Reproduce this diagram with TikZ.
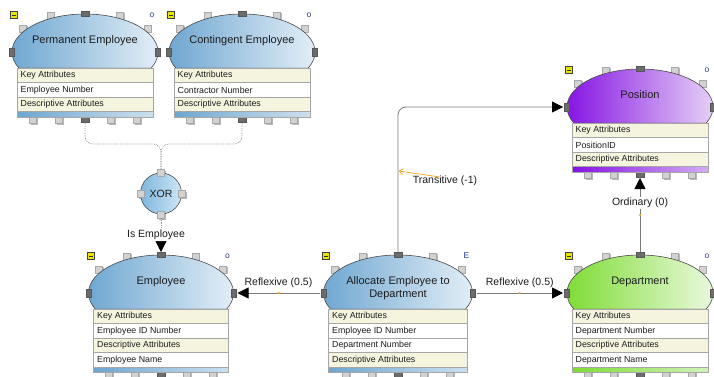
\documentclass[tikz,border=0pt]{standalone}
\usepackage{fontspec}
\setmainfont{Liberation Sans}
\usetikzlibrary{arrows.meta}
\definecolor{blueL}{HTML}{6EA6D0}
\definecolor{blueR}{HTML}{EAF3FA}
\definecolor{purL}{HTML}{8412E2}
\definecolor{purR}{HTML}{ECDDF8}
\definecolor{grnL}{HTML}{7EDC34}
\definecolor{grnR}{HTML}{F1FBE8}
\definecolor{rowb}{HTML}{F5F5DF}
\definecolor{roww}{HTML}{FFFFFF}
\definecolor{rowline}{HTML}{A6A6A6}
\definecolor{sqL}{HTML}{D2D2D2}
\definecolor{sqB}{HTML}{A8A8A8}
\definecolor{sqS}{HTML}{B8B8B8}
\definecolor{sqD}{HTML}{6C6C6C}
\definecolor{domeC}{HTML}{4A4A4A}
\definecolor{lineC}{HTML}{7A7A7A}
\definecolor{dotC}{HTML}{8C8C8C}
\definecolor{txtC}{HTML}{1C1C1C}
\definecolor{markC}{HTML}{2B3A8C}
\definecolor{iconY}{HTML}{E6E600}
\definecolor{orngC}{HTML}{F7A21B}
\definecolor{xorL}{HTML}{7DB7DE}
\definecolor{xorR}{HTML}{CFE6F5}

\tikzset{
  domeline/.style={draw=domeC, line width=0.6pt},
  titletext/.style={font=\fontsize{11}{13}\selectfont, text=txtC, inner sep=0pt, align=center, anchor=north},
  rowtext/.style={font=\fontsize{8.8}{10}\selectfont, text=txtC, inner sep=0pt, anchor=west},
  lbl/.style={font=\fontsize{10.5}{12}\selectfont, text=txtC, inner sep=1pt},
  conn/.style={draw=lineC, line width=0.8pt, -{Triangle[length=11pt,width=11pt,color=black]}},
  dotconn/.style={draw=dotC, line width=0.7pt, densely dotted},
  odot/.style={circle, fill=orngC, inner sep=0pt, minimum size=2.2pt},
  marktext/.style={font=\fontsize{8.5}{9}\selectfont, text=markC, inner sep=0pt},
}

\newcommand\lsq[2]{%
  \fill[sqS] ({#1-2},{#2-2}) rectangle ++(7,7);
  \filldraw[fill=sqL, draw=sqB, line width=0.4pt] ({#1-3.5},{#2-3.5}) rectangle ++(7,7);}
\newcommand\dsq[2]{%
  \filldraw[fill=sqD, draw=sqD!80!black, line width=0.3pt] ({#1-4},{#2-2.5}) rectangle ++(8,5);}
\newcommand\dsqv[2]{%
  \filldraw[fill=sqD, draw=sqD!80!black, line width=0.3pt] ({#1-2.5},{#2-4}) rectangle ++(5,8);}

% #1 name, #2 cx, #3 ytop, #4 rx, #5 title, #6 left colour, #7 right colour, #8 rows, #9 marker
\newcommand\entity[9]{%
  \pgfmathsetmacro\ecx{#2}%
  \pgfmathsetmacro\ety{#3}%
  \pgfmathsetmacro\erx{#4}%
  \pgfmathsetmacro\ecy{\ety+38}%
  \pgfmathsetmacro\etl{\ecx-\erx+5}%
  \pgfmathsetmacro\etr{\ecx+\erx-5}%
  \pgfmathsetmacro\ett{\ety+54}%
  % light connection squares behind the dome
  \foreach \a in {117,63,145,35}{%
    \pgfmathsetmacro\sx{\ecx+(\erx+3)*cos(\a)}%
    \pgfmathsetmacro\sy{\ecy-41*sin(\a)}%
    \lsq{\sx}{\sy}}
  % dome
  \path[domeline, left color=#6, right color=#7] (\ecx,\ecy) ++(-25:#4pt and 38pt)
     arc[start angle=-25, end angle=205, x radius=#4pt, y radius=38pt] -- cycle;
  \dsq{\ecx}{\ety}
  \dsqv{\ecx-\erx}{\ecy}
  \dsqv{\ecx+\erx}{\ecy}
  \node[titletext] (#1-title) at (\ecx,\ety+21.5) {#5};
  % count rows
  \foreach \rfill/\rtxt [count=\i] in {#8}{\xdef\nrows{\i}}
  \pgfmathsetmacro\eby{\ett+\nrows*14.5}%
  % bottom squares
  \foreach \dx in {-52,-26,26,52}{\lsq{\ecx+\dx}{\eby+8}}
  \dsq{\ecx}{\eby+8}
  % rows
  \foreach \rfill/\rtxt [count=\i] in {#8}{%
    \pgfmathsetmacro\ry{\ett+(\i-1)*14.5}%
    \path[draw=rowline, line width=0.5pt, fill=\rfill] (\etl,\ry) rectangle (\etr,\ry+14.5);
    \node[rowtext] (#1-r\i) at (\etl+3.5,\ry+7.6) {\rtxt};}
  % colour bar
  \path[draw=rowline, line width=0.5pt, left color=#6, right color=#6!35!white] (\etl,\eby) rectangle (\etr,\eby+5.5);
  \draw[rowline, line width=0.6pt] (\etl,\ett) rectangle (\etr,\eby+5.5);
  % icons
  \filldraw[fill=iconY, draw=black!75, line width=0.4pt] ({\ecx-\erx+2-3.5},{\ety+1-3.5}) rectangle ++(7,7);
  \draw[black!80, line width=0.7pt] ({\ecx-\erx+2-2},{\ety+1}) -- ++(4,0);
  \node[marktext] (#1-mark) at (\ecx+\erx-6,\ety+1) {#9};
  % anchor coordinates
  \coordinate (#1-top) at (\ecx,\ety-3);
  \coordinate (#1-left) at (\ecx-\erx-4,\ecy);
  \coordinate (#1-right) at (\ecx+\erx+4,\ecy);
  \coordinate (#1-bot) at (\ecx,\eby+11.5);
}

\begin{document}
\begin{tikzpicture}[x=1pt,y=-1pt]
\fill[white] (0,0) rectangle (714,377);
\useasboundingbox (0,0) rectangle (714,377);

\entity{perm}{85}{14}{73}{Permanent Employee}{blueL}{blueR}%
  {rowb/Key Attributes, roww/Employee Number, rowb/Descriptive Attributes}{o}
\entity{cont}{242}{14}{73}{Contingent Employee}{blueL}{blueR}%
  {rowb/Key Attributes, roww/Contractor Number, rowb/Descriptive Attributes}{o}
\entity{emp}{161}{255}{72.5}{Employee}{blueL}{blueR}%
  {rowb/Key Attributes, roww/Employee ID Number, rowb/Descriptive Attributes, roww/Employee Name}{o}
\entity{alloc}{398}{255}{74.5}{Allocate Employee to\\Department}{blueL}{blueR}%
  {rowb/Key Attributes, roww/Employee ID Number, roww/Department Number, rowb/Descriptive Attributes}{E}
\entity{dept}{640}{255}{73}{Department}{grnL}{grnR}%
  {rowb/Key Attributes, roww/Department Number, rowb/Descriptive Attributes, roww/Department Name}{o}
\entity{pos}{640}{69}{73}{Position}{purL}{purR}%
  {rowb/Key Attributes, roww/PositionID, rowb/Descriptive Attributes}{o}

% XOR
\coordinate (junc) at (161,144);
\draw[dotconn, rounded corners=8pt] (perm-bot) |- (junc) -- (161,172);
\draw[dotconn, rounded corners=8pt] (cont-bot) |- (junc) -- (161,172);
\lsq{161}{172.5}\lsq{161}{214.5}\lsq{140.5}{193.5}\lsq{181.5}{193.5}
\node[circle, draw=domeC, line width=0.6pt, left color=xorL, right color=xorR,
      minimum size=41pt, inner sep=0pt, font=\fontsize{10.5}{12}\selectfont, text=txtC] (xor) at (161,193.5) {XOR};
\foreach \p/\q in {161/172.5, 161/214.5, 140.5/193.5, 181.5/193.5}{%
  \filldraw[fill=sqL, draw=sqB, line width=0.4pt] ({\p-3.5},{\q-3.5}) rectangle ++(7,7);}

\draw[dotconn, -{Triangle[length=11pt,width=11pt,color=black]}] (xor.south) ++(0,4) -- (emp-top)
  node[lbl, midway, fill=white, xshift=-5pt] (isemp) {Is Employee};

% Reflexive connectors
\draw[conn] (alloc-left) -- (emp-right)
  node[lbl, midway, above=4pt] (refl1) {Reflexive (0.5)}
  node[odot, midway] (dot1) {};
\draw[conn] (alloc-right) -- (dept-left)
  node[lbl, midway, above=4pt] (refl2) {Reflexive (0.5)}
  node[odot, midway] (dot2) {};

% Ordinary
\draw[conn] (dept-top) -- (pos-bot)
  node[odot, midway] (dot3) {}
  node[lbl, pos=0.66, fill=white] (ordl) {Ordinary (0)};

% Transitive
\draw[conn, rounded corners=8pt] (alloc-top) |- (pos-left);
\node[lbl] (trans) at (445,181) {Transitive (-1)};
\coordinate (tstart) at (440,177);
\coordinate (tend) at (398.5,171);
\draw[orngC, line width=0.7pt, -{Straight Barb[length=4pt,width=6pt]}] (tstart) -- (tend);
\end{tikzpicture}
\end{document}
